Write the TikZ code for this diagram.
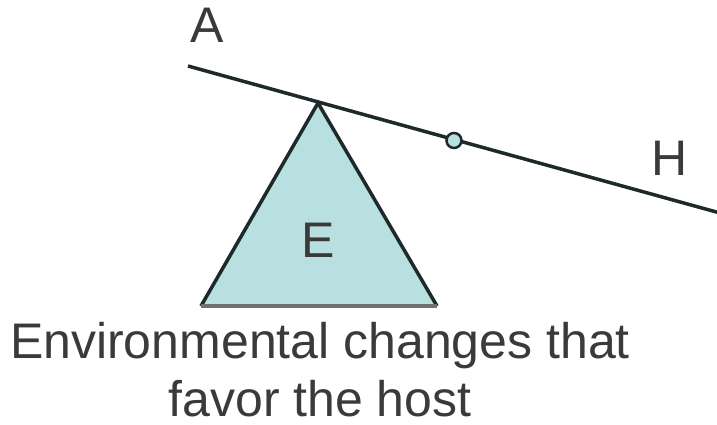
\documentclass[tikz,border=0pt]{standalone}
\usepackage{fontspec}
\setmainfont{Liberation Sans}
\definecolor{fillc}{HTML}{B9E0E1}
\definecolor{edgec}{HTML}{1E2A2A}
\definecolor{basec}{HTML}{6E7272}
\definecolor{txtc}{HTML}{3A3A3A}
\begin{document}
\begin{tikzpicture}[x=1pt,y=-1pt,
  lbl/.style={text=txtc,font=\fontsize{50}{60}\selectfont,inner sep=0pt,anchor=base},
  beam/.style={draw=edgec,line width=3.5pt}]
\useasboundingbox (0,0) rectangle (717,425);
% triangle
\coordinate (apex) at (318,103);
\coordinate (bl) at (201,306);
\coordinate (br) at (437,306);
\fill[fillc] (apex) -- (br) -- (bl) -- cycle;
\draw[draw=edgec,line width=3.5pt,line join=miter] (bl) -- (apex) -- (br);
\draw[draw=basec,line width=4pt] (bl) -- (br);
% lever
\coordinate (la) at (188,66);
\coordinate (lh) at (720,213);
\draw[beam] (la) -- (lh);
\node[circle,draw=edgec,fill=fillc,line width=2.5pt,minimum size=15pt,inner sep=0pt] (pivot) at (454,140.5) {};
% labels
\node[lbl] (A) at (207.5,43) {A};
\node[lbl] (H) at (670,175) {H};
\node[lbl] (E) at (318,257) {E};
\node[lbl] (t1) at (320,358) {Environmental changes that};
\node[lbl] (t2) at (320,416) {favor the host};
\end{tikzpicture}
\end{document}
